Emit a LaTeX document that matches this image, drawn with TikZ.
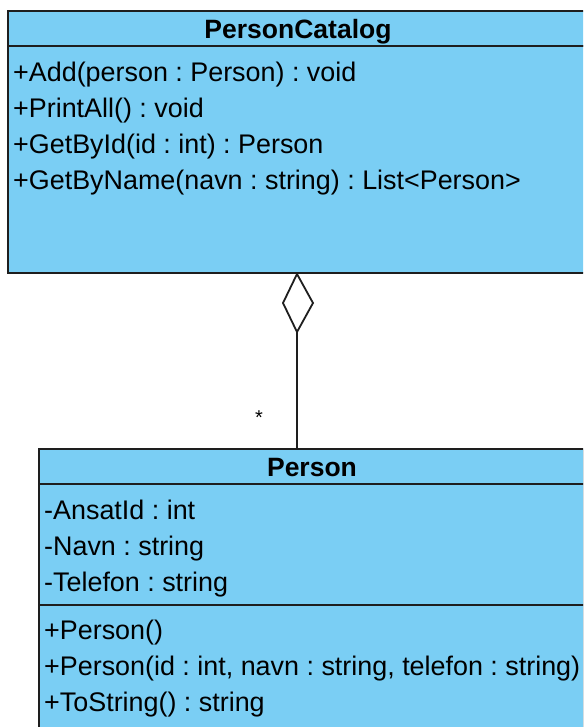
\documentclass[tikz,border=0pt]{standalone}
\usepackage{fontspec}
\setmainfont{Liberation Sans}
\definecolor{umlblue}{RGB}{122,206,244}
\definecolor{umlline}{RGB}{30,30,30}
\begin{document}
\frenchspacing
\begin{tikzpicture}[x=1pt,y=-1pt,
  part/.style={draw=umlline,line width=1.8pt,fill=umlblue,rectangle,inner sep=0pt,outer sep=0pt,anchor=north west},
  member/.style={anchor=base west,inner sep=0pt,font=\frenchspacing\fontsize{26.9}{30}\selectfont,text=black},
  title/.style={anchor=base,inner sep=0pt,font=\fontsize{26.5}{30}\selectfont\bfseries,text=black}]
\useasboundingbox (0,0) rectangle (583,727);
\clip (0,0) rectangle (583,727);
% PersonCatalog
\node[part,minimum width=580pt,minimum height=35pt] (cathead) at (8,11) {};
\node[part,minimum width=580pt,minimum height=227pt] (catbody) at (8,46) {};
\node[title] (cattitle) at (298,38.5) {PersonCatalog};
\node[member] (m1) at (13,81.5) {+Add(person : Person) : void};
\node[member] (m2) at (13,117.5) {+PrintAll() : void};
\node[member] (m3) at (13,153.5) {+GetById(id : int) : Person};
\node[member] (m4) at (13,190) {+GetByName(navn : string) : List<Person>};
% Person
\node[part,minimum width=545pt,minimum height=35pt] (phead) at (39,449) {};
\node[part,minimum width=545pt,minimum height=121pt] (pattr) at (39,484) {};
\node[part,minimum width=545pt,minimum height=140pt] (pops) at (39,605) {};
\node[title] (ptitle) at (312,476.5) {Person};
\node[member] (a1) at (44,519.5) {-AnsatId : int};
\node[member] (a2) at (44,555.5) {-Navn : string};
\node[member] (a3) at (44,591.5) {-Telefon : string};
\node[member] (o1) at (44,639.5) {+Person()};
\node[member] (o2) at (44,675.5) {+Person(id : int, navn : string, telefon : string)};
\node[member] (o3) at (44,711.5) {+ToString() : string};
% aggregation
\coordinate (dtop) at (297,274);
\coordinate (dleft) at (283,303);
\coordinate (dright) at (313,303);
\coordinate (dbot) at (297,332);
\coordinate (pend) at (297,449);
\draw[umlline,line width=1.8pt,fill=white,line join=miter] (dtop) -- (dright) -- (dbot) -- (dleft) -- cycle;
\draw[umlline,line width=1.8pt] (dbot) -- (pend);
\node[inner sep=0pt,font=\fontsize{20}{22}\selectfont] (mult) at (259,418) {*};
\end{tikzpicture}
\end{document}
